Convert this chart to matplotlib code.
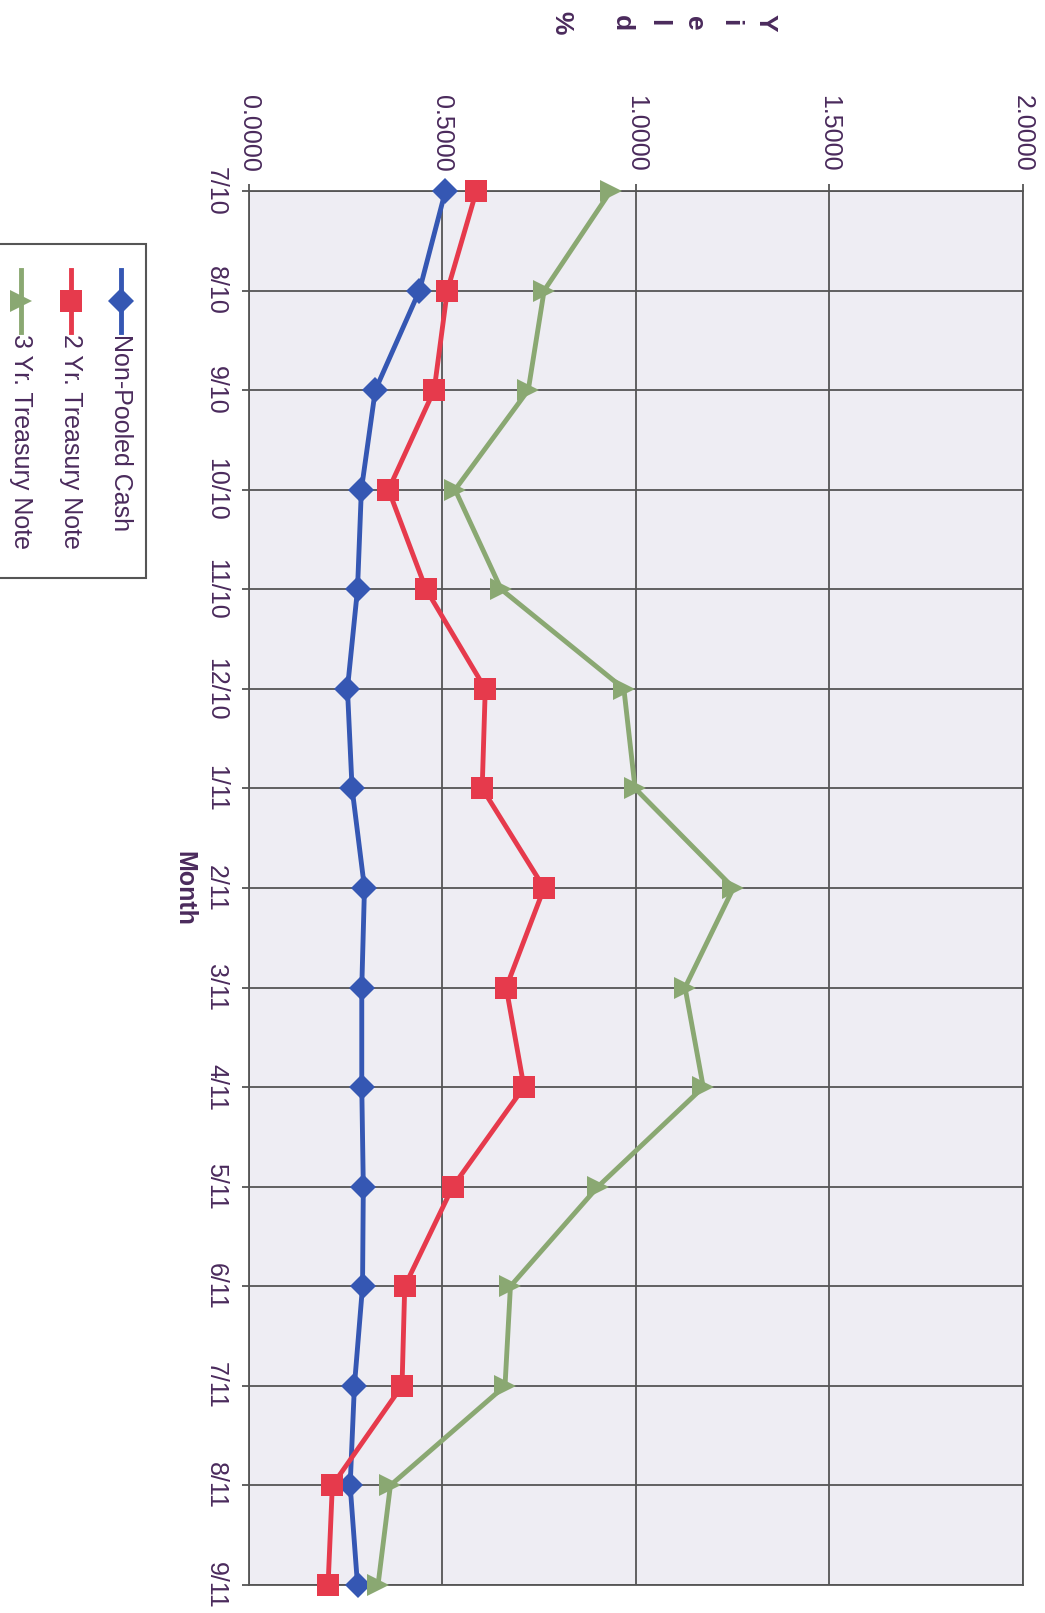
import numpy as np
import matplotlib.pyplot as plt
from matplotlib.patches import Rectangle
from matplotlib.lines import Line2D

# monthly yields (%), July 2010 through September 2011
months = ['7/10', '8/10', '9/10', '10/10', '11/10', '12/10', '1/11', '2/11',
          '3/11', '4/11', '5/11', '6/11', '7/11', '8/11', '9/11']
non_pooled = [0.508, 0.441, 0.327, 0.291, 0.281, 0.255, 0.267, 0.299,
              0.292, 0.292, 0.296, 0.294, 0.273, 0.262, 0.281]
two_yr = [0.588, 0.513, 0.479, 0.361, 0.458, 0.611, 0.603, 0.763,
          0.665, 0.711, 0.527, 0.403, 0.396, 0.216, 0.205]
three_yr = [0.935, 0.763, 0.722, 0.533, 0.652, 0.969, 0.998, 1.252,
            1.127, 1.174, 0.902, 0.676, 0.662, 0.366, 0.334]
yield_ticks = [0.0, 0.5, 1.0, 1.5, 2.0]
series_names = ['Non-Pooled Cash', '2 Yr. Treasury Note', '3 Yr. Treasury Note']

txt = '#4a2a5c'
grid = '#555555'
colors = ['#3557b3', '#e63a4c', '#8aa872']
markers = ['D', 's', '>']
msizes = [13, 16, 16]

plt.rcParams['font.family'] = ['Liberation Sans', 'DejaVu Sans']

fig = plt.figure(figsize=(10.45, 16.13), dpi=100)
ax = fig.add_axes([0.238, 0.0174, 0.741, 0.8642])
ax.set_facecolor('#eeedf3')

pos = np.arange(len(months))
for vals, c, m, ms in zip([non_pooled, two_yr, three_yr], colors, markers, msizes):
    ax.plot(vals, pos, color=c, lw=3.5, marker=m, markersize=ms,
            markeredgewidth=0, zorder=3, clip_on=False)

ax.set_xlim(0, 2)
ax.set_ylim(len(months) - 1, 0)
ax.set_xticks(yield_ticks)
ax.set_xticklabels(['%.4f' % v for v in yield_ticks], rotation=270)
ax.set_yticks(pos)
ax.set_yticklabels(months, rotation=270, va='center')
ax.xaxis.tick_top()
ax.tick_params(axis='both', colors=grid, labelcolor=txt, labelsize=18,
               length=5, width=1.3)
ax.tick_params(axis='x', pad=9)
ax.tick_params(axis='y', pad=10)
ax.grid(True, color=grid, lw=1.3)
for s in ax.spines.values():
    s.set_color(grid)
    s.set_linewidth(1.3)

ax.set_ylabel('Month', rotation=270, fontsize=18, fontweight='bold',
              color=txt, labelpad=14, va='center')

# stacked axis title across the top
for i, ch in enumerate('Yield'):
    fig.text((766 - 36 * i) / 1045, 1 - 23 / 1613, ch, rotation=270,
             fontsize=19, fontweight='bold', color=txt, ha='center', va='center')
fig.text(561 / 1045, 1 - 23 / 1613, '%', rotation=270, fontsize=19,
         fontweight='bold', color=txt, ha='center', va='center')

# legend box drawn sideways in figure pixels
W, H = 1045, 1613
fig.patches.append(Rectangle((-2 / W, 1 - 578 / H), 148 / W, 334 / H,
                             transform=fig.transFigure, facecolor='white',
                             edgecolor=grid, lw=1.5))
for i, (name, c, m, ms) in enumerate(zip(series_names, colors, markers, msizes)):
    x = (121 - 50 * i) / W
    fig.add_artist(Line2D([x, x], [1 - 270 / H, 1 - 332 / H], color=c, lw=3.5,
                          transform=fig.transFigure))
    fig.add_artist(Line2D([x], [1 - 301 / H], color=c, marker=m, markersize=ms,
                          markeredgewidth=0, transform=fig.transFigure))
    fig.text(x, 1 - 334 / H, name, rotation=270, fontsize=18, color=txt,
             ha='center', va='top')

fig.savefig('out.png', dpi=100, facecolor='white')
